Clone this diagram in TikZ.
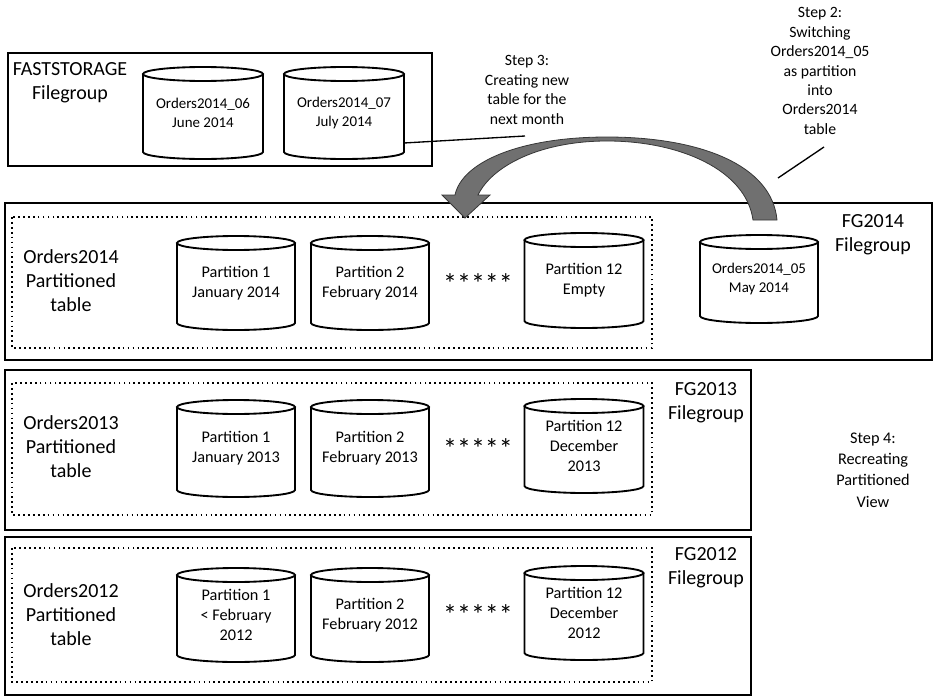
\documentclass[tikz,border=0pt]{standalone}
\usepackage{fontspec}
\setmainfont{Carlito}
\definecolor{arrowgray}{RGB}{112,112,112}
\definecolor{arrowedge}{RGB}{55,55,55}
\usetikzlibrary{positioning}

% cylinder: name, centre x, top y, bottom y, width, text
\newcommand{\dbcyl}[6]{%
  \draw[cylline] (#2-#5/2,#3) -- (#2-#5/2,#4) arc[start angle=180, end angle=0, x radius=#5/2, y radius=7] -- (#2+#5/2,#3);
  \draw[cylline] (#2,#3) ellipse[x radius=#5/2, y radius=7];
  \node[cyltext] (#1) at (#2,{(#3+#4)/2}) {#6};
}

\begin{document}
\begin{tikzpicture}[x=0.75pt, y=-0.75pt,
    groupbox/.style={draw, line width=1.4pt},
    tablebox/.style={draw, line width=1.4pt, dash pattern=on 1.3pt off 2.4pt},
    cylline/.style={draw, fill=white, line width=1.4pt},
    cyltext/.style={align=center, font=\fontsize{12.2}{15}\selectfont},
    smalltext/.style={align=center, font=\fontsize{11.2}{14.2}\selectfont},
    biglabel/.style={align=center, font=\fontsize{15}{18}\selectfont},
    steptext/.style={align=center, font=\fontsize{11.8}{14.6}\selectfont},
    stars/.style={font=\fontsize{21}{24}\selectfont}]
  \useasboundingbox (0,0) rectangle (938,699);

  % filegroup boxes
  \draw[groupbox] (8,53) rectangle (432,166);
  \draw[groupbox] (5,203) rectangle (932,360);
  \draw[groupbox] (5,370) rectangle (751,530);
  \draw[groupbox] (5,537) rectangle (751,695);

  % partitioned tables
  \draw[tablebox] (12,217) rectangle (652,348);
  \draw[tablebox] (12,383) rectangle (652,515);
  \draw[tablebox] (12,548) rectangle (652,682);

  \node[biglabel] (fastlbl) at (70,83) {FASTSTORAGE\\Filegroup};
  \node[biglabel] (fg14lbl) at (873,235) {FG2014\\Filegroup};
  \node[biglabel] (fg13lbl) at (706,403) {FG2013\\Filegroup};
  \node[biglabel] (fg12lbl) at (706,568) {FG2012\\Filegroup};
  \node[biglabel] (t14lbl) at (71,281) {Orders2014\\Partitioned\\table};
  \node[biglabel] (t13lbl) at (71,447) {Orders2013\\Partitioned\\table};
  \node[biglabel] (t12lbl) at (71,615) {Orders2012\\Partitioned\\table};

  % fast storage tables
  \dbcyl{o06}{203}{74}{152}{120}{}
  \node[smalltext] at (o06) {Orders2014\_06\\June 2014};
  \dbcyl{o07}{344}{74}{152}{120}{}
  \node[smalltext] at (o07) {Orders2014\_07\\July 2014};

  % 2014
  \dbcyl{p14a}{236}{243}{323}{118}{Partition 1\\January 2014}
  \dbcyl{p14b}{370}{243}{323}{118}{Partition 2\\February 2014}
  \dbcyl{p14c}{584}{240}{321}{119}{Partition 12\\Empty}
  \dbcyl{o05}{759}{242}{316}{118}{}
  \node[smalltext] at (o05) {Orders2014\_05\\May 2014};

  % 2013
  \dbcyl{p13a}{236}{407}{490}{118}{Partition 1\\January 2013}
  \dbcyl{p13b}{370}{407}{490}{118}{Partition 2\\February 2013}
  \dbcyl{p13c}{584}{406}{486}{119}{Partition 12\\December\\2013}

  % 2012
  \dbcyl{p12a}{236}{575}{655}{118}{Partition 1\\< February\\2012}
  \dbcyl{p12b}{370}{575}{655}{118}{Partition 2\\February 2012}
  \dbcyl{p12c}{584}{573}{653}{119}{Partition 12\\December\\2012}

  \node[stars] (dots14) at (478,284) {*****};
  \node[stars] (dots13) at (478,449) {*****};
  \node[stars] (dots12) at (478,615) {*****};

  % steps
  \node[steptext] (step3) at (527,90) {Step 3:\\Creating new\\table for the\\next month};
  \node[steptext] (step2) at (820,71) {Step 2:\\Switching\\Orders2014\_05\\as partition\\into\\Orders2014\\table};
  \node[steptext, font=\fontsize{12.2}{16}\selectfont] (step4) at (873,470) {Step 4:\\Recreating\\Partitioned\\View};

  \coordinate (o07side) at (404,143);
  \coordinate (step3end) at (525,136);
  \coordinate (step2end) at (824,147);
  \coordinate (arcfoot) at (778,178);
  \draw[line width=1pt] (o07side) -- (step3end);
  \draw[line width=1pt] (arcfoot) -- (step2end);

  % curved switch arrow
  \filldraw[fill=arrowgray, draw=arrowedge, line width=0.6pt]
    (777,220) .. controls (772,165) and (700,137) .. (607,137)
    .. controls (520,137) and (462,162) .. (455,195)
    -- (442,195) -- (465,218) -- (490,195) -- (478,195)
    .. controls (492,166) and (540,141) .. (607,141)
    .. controls (680,141) and (746,170) .. (753,220) -- cycle;
\end{tikzpicture}
\end{document}
